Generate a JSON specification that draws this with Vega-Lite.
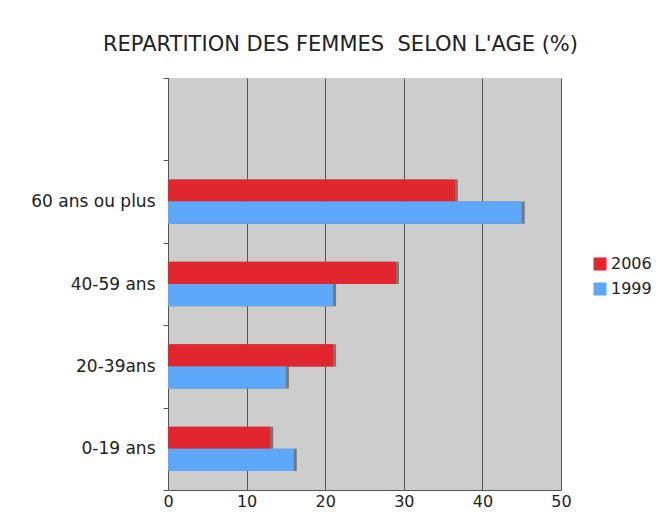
{
  "$schema": "https://vega.github.io/schema/vega-lite/v6.json",
  "width": 393,
  "height": 412,
  "autosize": {"type": "none"},
  "padding": {"left": 168, "top": 78, "right": 109, "bottom": 33},
  "background": "white",
  "title": {
    "text": "REPARTITION DES FEMMES\u00a0 SELON L'AGE (%)",
    "font": "DejaVu Sans",
    "fontSize": 21,
    "fontWeight": "normal",
    "color": "#222222",
    "anchor": "middle",
    "dx": -24,
    "baseline": "alphabetic",
    "offset": -3
  },
  "data": {
    "values": [
      {"age": "60 ans ou plus", "year": "2006", "value": 36.5},
      {"age": "60 ans ou plus", "year": "1999", "value": 45},
      {"age": "40-59 ans", "year": "2006", "value": 29},
      {"age": "40-59 ans", "year": "1999", "value": 21},
      {"age": "20-39ans", "year": "2006", "value": 21},
      {"age": "20-39ans", "year": "1999", "value": 15},
      {"age": "0-19 ans", "year": "2006", "value": 13},
      {"age": "0-19 ans", "year": "1999", "value": 16}
    ]
  },
  "encoding": {
    "y": {
      "field": "age",
      "type": "nominal",
      "title": null,
      "scale": {
        "domain": [" ", "60 ans ou plus", "40-59 ans", "20-39ans", "0-19 ans"],
        "paddingInner": 0,
        "paddingOuter": 0
      },
      "axis": {
        "tickBand": "extent",
        "labelFont": "DejaVu Sans",
        "labelFontSize": 17,
        "labelColor": "#222222",
        "labelPadding": 8,
        "tickSize": 5,
        "tickColor": "#555555",
        "domainColor": "#555555",
        "grid": false
      }
    },
    "yOffset": {
      "field": "year",
      "type": "nominal",
      "scale": {"domain": ["2006", "1999"], "paddingOuter": 0.86, "paddingInner": 0}
    },
    "x": {
      "field": "value",
      "type": "quantitative",
      "title": null,
      "scale": {"domain": [0, 50], "nice": false},
      "axis": {
        "values": [0, 10, 20, 30, 40, 50],
        "labelFlush": false,
        "labelFont": "DejaVu Sans",
        "labelFontSize": 16,
        "labelColor": "#222222",
        "labelPadding": 3,
        "ticks": false,
        "domainColor": "#555555",
        "grid": true,
        "gridColor": "#555555",
        "gridOpacity": 1
      }
    }
  },
  "layer": [
    {
      "mark": {"type": "bar", "color": "#777777", "xOffset": 3, "yOffset": 3, "cornerRadius": 0}
    },
    {
      "mark": {"type": "bar"},
      "encoding": {
        "color": {
          "field": "year",
          "type": "nominal",
          "title": null,
          "scale": {"domain": ["2006", "1999"], "range": ["#e1262e", "#5ea8fb"]},
          "legend": {
            "orient": "none",
            "legendX": 424,
            "legendY": 178,
            "symbolType": "square",
            "symbolSize": 170,
            "symbolStrokeWidth": 0,
            "symbolOpacity": 1,
            "labelFont": "DejaVu Sans",
            "labelFontSize": 16,
            "labelColor": "#222222",
            "rowPadding": 9,
            "labelOffset": 3
          }
        }
      }
    }
  ],
  "config": {
    "view": {"fill": "#cdcdcd", "stroke": null}
  }
}
